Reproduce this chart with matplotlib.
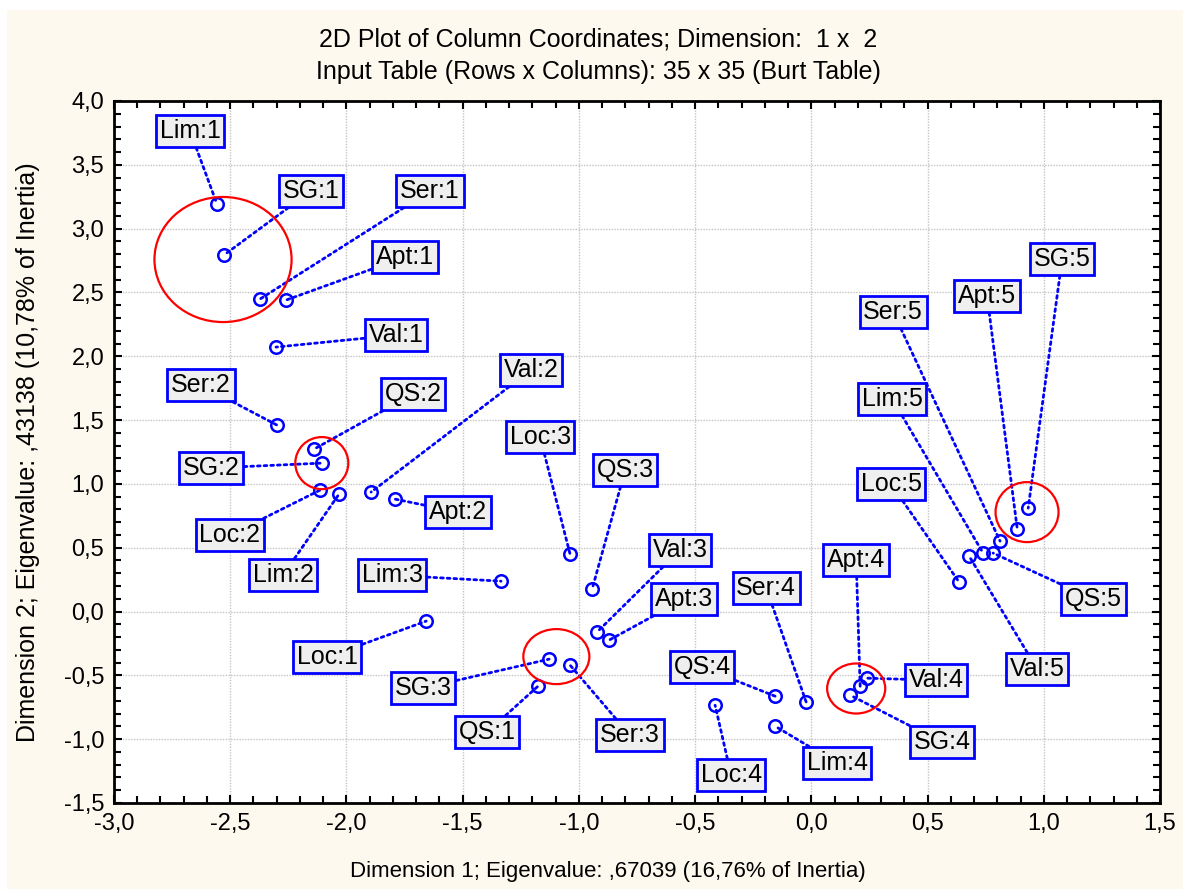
import matplotlib
matplotlib.use("Agg")
import matplotlib.pyplot as plt
from matplotlib.patches import Ellipse, Rectangle
from matplotlib.ticker import MultipleLocator, FuncFormatter

plt.rcParams['font.family'] = ['Liberation Sans', 'DejaVu Sans']

# column categories and their coordinates (dimension 1, dimension 2)
names = ['Lim:1', 'SG:1', 'Ser:1', 'Apt:1', 'Val:1',
         'Ser:2', 'QS:2', 'SG:2', 'Loc:2', 'Lim:2', 'Val:2', 'Apt:2',
         'Loc:3', 'QS:3', 'Lim:3', 'Val:3', 'Apt:3', 'SG:3', 'Ser:3',
         'Loc:1', 'QS:1',
         'QS:4', 'Ser:4', 'Loc:4', 'Lim:4', 'Apt:4', 'Val:4', 'SG:4',
         'Loc:5', 'Val:5', 'Lim:5', 'QS:5', 'Ser:5', 'Apt:5', 'SG:5']
dim1 = [-2.557, -2.527, -2.372, -2.260, -2.303,
        -2.299, -2.139, -2.105, -2.114, -2.032, -1.894, -1.791,
        -1.038, -0.943, -1.335, -0.922, -0.870, -1.128, -1.038,
        -1.657, -1.176,
        -0.156, -0.022, -0.414, -0.156, 0.210, 0.240, 0.167,
        0.636, 0.679, 0.739, 0.782, 0.812, 0.886, 0.933]
dim2 = [3.193, 2.793, 2.448, 2.440, 2.072,
        1.461, 1.273, 1.163, 0.951, 0.920, 0.936, 0.881,
        0.450, 0.176, 0.238, -0.161, -0.224, -0.373, -0.420,
        -0.075, -0.585,
        -0.663, -0.710, -0.734, -0.898, -0.585, -0.522, -0.655,
        0.230, 0.434, 0.458, 0.458, 0.552, 0.646, 0.810]

# where each label box sits (data units)
label_x = [-2.673, -2.152, -1.640, -1.748, -1.787,
           -2.626, -1.713, -2.583, -2.501, -2.273, -1.206, -1.520,
           -1.167, -0.801, -1.804, -0.565, -0.547, -1.670, -0.780,
           -2.083, -1.395,
           -0.470, -0.194, -0.345, 0.111, 0.193, 0.537, 0.563,
           0.343, 0.972, 0.348, 1.213, 0.352, 0.756, 1.079]
label_y = [3.765, 3.295, 3.295, 2.777, 2.166,
           1.774, 1.704, 1.124, 0.599, 0.285, 1.892, 0.779,
           1.367, 1.108, 0.285, 0.481, 0.097, -0.600, -0.969,
           -0.357, -0.945,
           -0.436, 0.183, -1.282, -1.188, 0.403, -0.538, -1.024,
           0.998, -0.451, 1.665, 0.097, 2.346, 2.472, 2.762]

# red rings drawn around groups (center x, center y, width, height)
ring_x = [-2.531, -2.106, -1.097, 0.193, 0.928]
ring_y = [2.758, 1.163, -0.353, -0.603, 0.779]
ring_w = [0.590, 0.228, 0.284, 0.250, 0.271]
ring_h = [0.980, 0.408, 0.431, 0.392, 0.470]

cream = '#fdf9ee'
blue = '#0000ff'

fig = plt.figure(figsize=(11.83, 8.89), dpi=100)
fig.patch.set_facecolor('white')
fig.patches.append(Rectangle((7 / 1183, 0), 1, 1 - 10 / 889, transform=fig.transFigure,
                             facecolor=cream, edgecolor='none', zorder=-10))

ax = fig.add_axes([114 / 1183, 1 - 803 / 889, (1160 - 114) / 1183, (803 - 101) / 889])
ax.set_facecolor('white')
ax.set_xlim(-3.0, 1.5)
ax.set_ylim(-1.5, 4.0)

ax.xaxis.set_major_locator(MultipleLocator(0.5))
ax.yaxis.set_major_locator(MultipleLocator(0.5))
ax.xaxis.set_minor_locator(MultipleLocator(0.1))
ax.yaxis.set_minor_locator(MultipleLocator(0.1))
fmt = FuncFormatter(lambda v, p: ('%.1f' % v).replace('.', ','))
ax.xaxis.set_major_formatter(fmt)
ax.yaxis.set_major_formatter(fmt)
ax.tick_params(which='both', direction='in', top=True, right=True,
               width=1.5, labelsize=17, colors='black')
ax.tick_params(which='major', length=6, pad=7)
ax.tick_params(which='minor', length=5)
for s in ax.spines.values():
    s.set_linewidth(2)
ax.grid(True, which='major', color='#c4c4c4', linestyle=(0, (1, 1)), linewidth=1)
ax.set_axisbelow(True)

ax.plot(dim1, dim2, 'o', markersize=9, markerfacecolor='none',
        markeredgecolor=blue, markeredgewidth=1.8, zorder=4)

for name, x, y, lx, ly in zip(names, dim1, dim2, label_x, label_y):
    ax.annotate(name, xy=(x, y), xytext=(lx, ly), fontsize=18,
                ha='center', va='center', zorder=5,
                bbox=dict(boxstyle='square,pad=0.15', facecolor='#efefef',
                          edgecolor=blue, linewidth=2),
                arrowprops=dict(arrowstyle='-', color=blue, linewidth=2,
                                linestyle=(0, (1, 1.4)), shrinkA=0, shrinkB=0))

for cx, cy, w, h in zip(ring_x, ring_y, ring_w, ring_h):
    ax.add_patch(Ellipse((cx, cy), w, h, fill=False, edgecolor='#ff0000',
                         linewidth=1.6, zorder=6))

fig.text(0.506, 1 - 40 / 889, '2D Plot of Column Coordinates; Dimension:  1 x  2',
         ha='center', va='center', fontsize=18)
fig.text(0.506, 1 - 72 / 889, 'Input Table (Rows x Columns): 35 x 35 (Burt Table)',
         ha='center', va='center', fontsize=18)
fig.text(608 / 1183, 1 - 872 / 889, 'Dimension 1; Eigenvalue: ,67039 (16,76% of Inertia)',
         ha='center', va='center', fontsize=16)
fig.text(28 / 1183, 1 - 452 / 889, 'Dimension 2; Eigenvalue: ,43138 (10,78% of Inertia)',
         ha='center', va='center', rotation=90, fontsize=18)

fig.savefig('out.png', dpi=100, facecolor=fig.get_facecolor())
